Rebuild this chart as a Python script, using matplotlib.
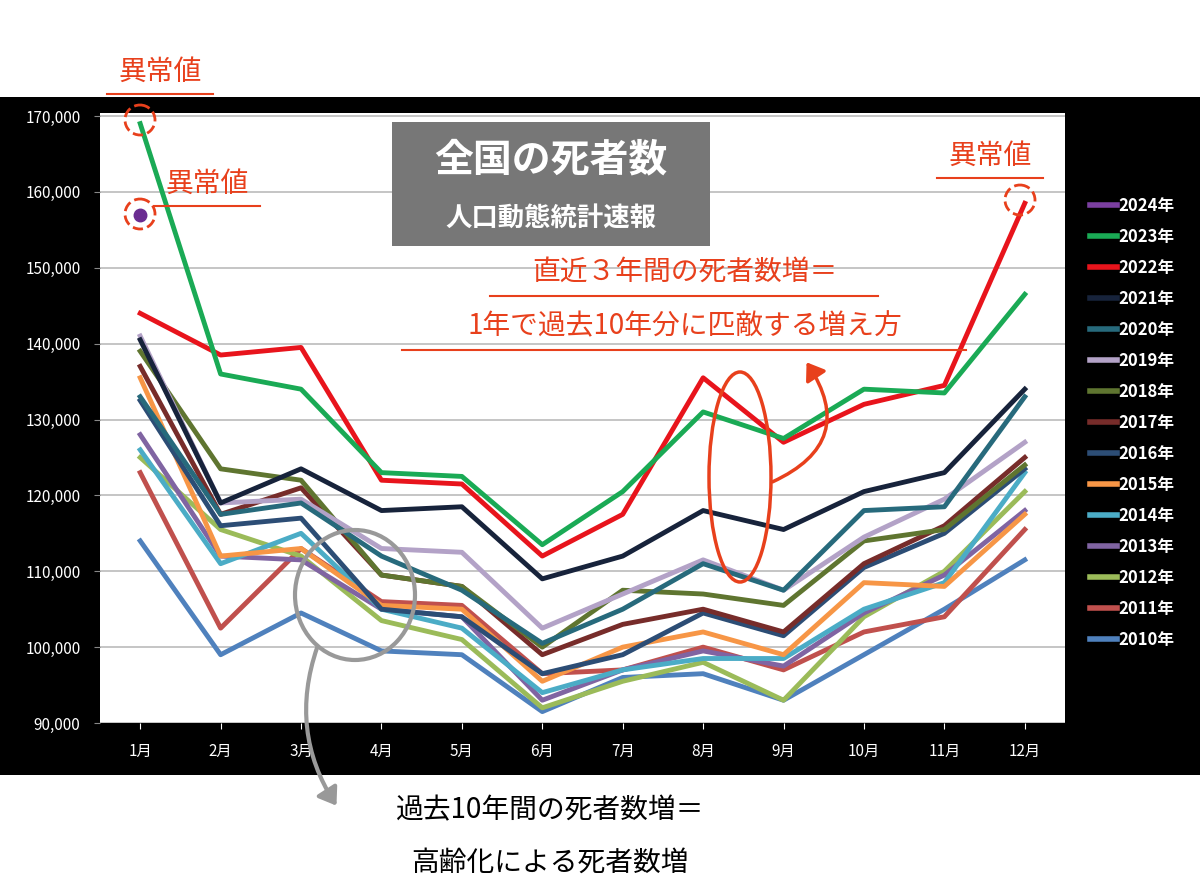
import matplotlib.pyplot as plt
from matplotlib.patches import Rectangle, Ellipse, FancyArrowPatch
from matplotlib.lines import Line2D

plt.rcParams['font.family'] = ['Noto Sans CJK JP', 'DejaVu Sans']

months = ["1月", "2月", "3月", "4月", "5月", "6月", "7月", "8月", "9月", "10月", "11月", "12月"]

y2010 = [114, 99, 104.5, 99.5, 99, 91.5, 96, 96.5, 93, 99, 105, 111.5]
y2011 = [123, 102.5, 113, 106, 105.5, 96.5, 97, 100, 97, 102, 104, 115.5]
y2012 = [125, 115.5, 112, 103.5, 101, 92, 95.5, 98, 93, 104, 110, 120.5]
y2013 = [128, 112, 111.5, 105, 104, 93, 97, 99.5, 97.5, 104.5, 109.5, 118]
y2014 = [126, 111, 115, 105, 102.5, 94, 97, 98.5, 98.5, 105, 108.5, 123]
y2015 = [135.5, 112, 113, 105.5, 105, 95.5, 100, 102, 99, 108.5, 108, 117.5]
y2016 = [132.5, 116, 117, 105, 104, 96.5, 99, 104.5, 101.5, 110.5, 115, 123.5]
y2017 = [137, 117.5, 121, 109.5, 108, 99, 103, 105, 102, 111, 116, 125]
y2018 = [139, 123.5, 122, 109.5, 108, 100, 107.5, 107, 105.5, 114, 115.5, 124]
y2019 = [141, 119, 119.5, 113, 112.5, 102.5, 107, 111.5, 107.5, 114.5, 119.5, 127]
y2020 = [133, 117.5, 119, 112, 107.5, 100.5, 105, 111, 107.5, 118, 118.5, 133]
y2021 = [140.5, 119, 123.5, 118, 118.5, 109, 112, 118, 115.5, 120.5, 123, 134]
y2022 = [144, 138.5, 139.5, 122, 121.5, 112, 117.5, 135.5, 127, 132, 134.5, 158.5]
y2023 = [169, 136, 134, 123, 122.5, 113.5, 120.5, 131, 127.5, 134, 133.5, 146.5]
y2024 = [157]

series = [
    ("2010年", y2010, "#4f81bd"),
    ("2011年", y2011, "#c0504d"),
    ("2012年", y2012, "#9bbb59"),
    ("2013年", y2013, "#8064a2"),
    ("2014年", y2014, "#4bacc6"),
    ("2015年", y2015, "#f79646"),
    ("2016年", y2016, "#2c4d75"),
    ("2017年", y2017, "#772c2a"),
    ("2018年", y2018, "#5f7530"),
    ("2019年", y2019, "#b3a2c7"),
    ("2020年", y2020, "#276a7c"),
    ("2021年", y2021, "#17233b"),
    ("2022年", y2022, "#e8141c"),
    ("2023年", y2023, "#1aaa55"),
]

fig = plt.figure(figsize=(12, 8.93), dpi=100)
fig.patch.set_facecolor("white")
W, H = 1200, 893

# black panel behind chart
fig.patches.append(Rectangle((0, 1 - 775 / H), 1, (775 - 97) / H, transform=fig.transFigure,
                             facecolor="black", edgecolor="none", zorder=-10))

ax = fig.add_axes([100 / W, 1 - 723 / H, 965 / W, (723 - 113) / H])
ax.set_facecolor("white")
x = list(range(12))
for name, vals, col in series:
    ax.plot(x[:len(vals)], [v * 1000 for v in vals], color=col, lw=3.5)
ax.plot([0], [y2024[0] * 1000], "o", color="#6a2c91", ms=9)

ax.set_xlim(-0.5, 11.5)
ax.set_ylim(90000, 170400)
ax.set_yticks(range(90000, 170001, 10000))
ax.yaxis.set_major_formatter(plt.FuncFormatter(lambda v, p: f"{int(v):,}"))
ax.set_xticks(x)
ax.set_xticklabels(months)
ax.grid(axis="y", color="#bbbbbb", lw=1.2)
ax.set_axisbelow(True)
for s in ax.spines.values():
    s.set_visible(False)
ax.tick_params(colors="white", labelsize=11, length=4, pad=10)
ax.tick_params(axis="y", color="#888888")

leg_items = [Line2D([], [], color="#7b3fa0", lw=4, label="2024年")]
for name, vals, col in reversed(series):
    leg_items.append(Line2D([], [], color=col, lw=4, label=name))
leg = fig.legend(handles=leg_items, loc="upper left", bbox_to_anchor=(1075 / W, 1 - 182 / H),
                 frameon=False, handlelength=1.6, handletextpad=0.1, labelspacing=0.78,
                 prop={"size": 12, "weight": "bold"})
for t in leg.get_texts():
    t.set_color("white")

# overlay in pixel coordinates for annotations
ov = fig.add_axes([0, 0, 1, 1], facecolor="none")
ov.set_xlim(0, W)
ov.set_ylim(H, 0)
ov.axis("off")

ov.add_patch(Rectangle((392, 122), 318, 124, facecolor="#777777", edgecolor="none"))
ov.text(551, 160, "全国の死者数", color="white", fontsize=28, fontweight="bold", ha="center", va="center")
ov.text(551, 218, "人口動態統計速報", color="white", fontsize=19, fontweight="bold", ha="center", va="center")

red = "#e8401c"
for tx, ty, w in [(160, 72, 106), (207, 184, 106), (990, 156, 106)]:
    ov.text(tx, ty, "異常値", color=red, fontsize=20, ha="center", va="center")
    ov.plot([tx - w / 2, tx + w / 2], [ty + 22, ty + 22], color=red, lw=1.5)
ov.text(685, 272, "直近３年間の死者数増＝", color=red, fontsize=20, ha="center", va="center")
ov.plot([490, 878], [296, 296], color=red, lw=1.5)
ov.text(685, 326, "1年で過去10年分に匹敵する増え方", color=red, fontsize=20, ha="center", va="center")
ov.plot([402, 966], [350, 350], color=red, lw=1.5)

for cx, cy in [(140, 120), (140, 214), (1020, 200)]:
    ov.add_patch(Ellipse((cx, cy), 30, 30, fill=False, edgecolor=red, lw=2, ls="--"))

ov.add_patch(Ellipse((740, 477), 62, 210, fill=False, edgecolor=red, lw=2.5))
ov.add_patch(FancyArrowPatch((770, 483), (805, 360), connectionstyle="arc3,rad=0.6",
                             arrowstyle="-|>,head_length=10,head_width=7", color=red, lw=2.5))

ov.add_patch(Ellipse((355, 595), 120, 130, fill=False, edgecolor="#999999", lw=3))
ov.add_patch(FancyArrowPatch((318, 645), (338, 808), connectionstyle="arc3,rad=0.25",
                             arrowstyle="-|>,head_length=10,head_width=7", color="#999999", lw=3))

ov.text(550, 810, "過去10年間の死者数増＝", color="black", fontsize=20, ha="center", va="center")
ov.text(550, 863, "高齢化による死者数増", color="black", fontsize=20, ha="center", va="center")

fig.savefig("out.png", dpi=100)
